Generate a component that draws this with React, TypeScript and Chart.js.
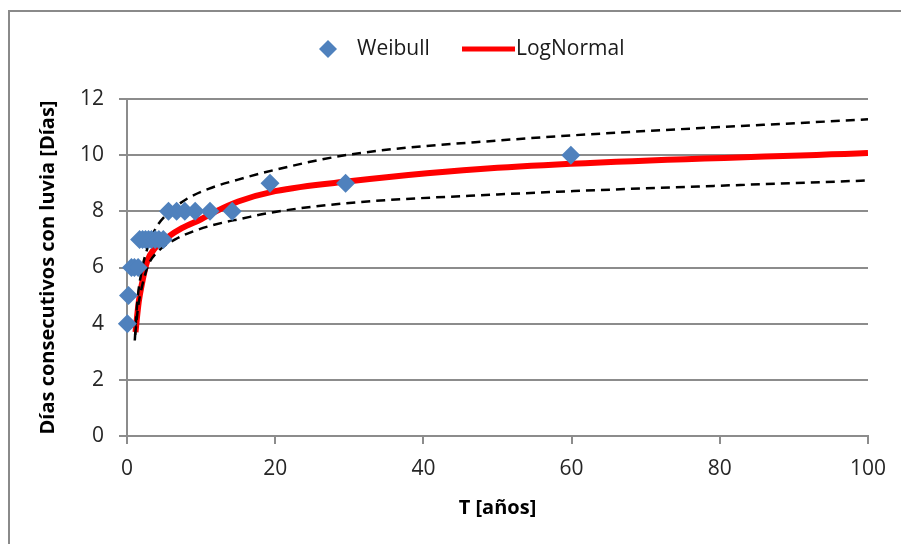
import React, { useEffect, useRef } from 'react';
import { Chart, registerables } from 'chart.js';

Chart.register(...registerables);

// Weibull plotting positions (return period T in years, days)
const weibullT = [0.05, 0.2, 0.6, 1.0, 1.5, 1.7, 2.1, 2.5, 2.9, 3.3, 3.8, 4.3, 4.9, 5.6, 6.7, 7.8, 9.2, 11.2, 14.2, 19.3, 29.5, 59.9];
const weibullDays = [4, 5, 6, 6, 6, 7, 7, 7, 7, 7, 7, 7, 7, 8, 8, 8, 8, 8, 8, 9, 9, 10];

// LogNormal fitted curve
const logNormalT = [1.15, 1.3, 1.6, 2.0, 2.7, 3.8, 5.6, 7.4, 10, 12, 15, 20, 30, 50, 100];
const logNormalDays = [3.7, 4.1, 4.8, 5.4, 6.2, 6.7, 7.1, 7.4, 7.72, 8.0, 8.35, 8.72, 9.07, 9.55, 10.08];

// Upper confidence band (dashed)
const upperT = [1.05, 1.4, 2.0, 2.9, 4.0, 5.6, 8, 11, 15, 20, 30, 50, 100];
const upperDays = [3.4, 4.8, 5.9, 6.8, 7.45, 7.95, 8.43, 8.8, 9.13, 9.48, 10.02, 10.52, 11.28];

// Lower confidence band (dashed)
const lowerT = [1.1, 1.5, 2.0, 2.9, 4.2, 6.5, 9.6, 12.8, 15.3, 19.3, 29.3, 50, 100];
const lowerDays = [3.6, 4.6, 5.3, 6.1, 6.58, 7.0, 7.35, 7.59, 7.73, 7.95, 8.28, 8.6, 9.1];

const xTicks = [0, 20, 40, 60, 80, 100];
const yTicks = [0, 2, 4, 6, 8, 10, 12];

const FONT = '"Open Sans", "DejaVu Sans", sans-serif';
const GRID = '#8c8c8c';
const BLUE = '#4F81BD';
const RED = '#FF0000';

const pts = (xs: number[], ys: number[]) => xs.map((x, i) => ({ x, y: ys[i] }));

const framePlugin = {
  id: 'frameAndLegend',
  beforeDraw(chart: any) {
    const ctx = chart.ctx;
    ctx.save();
    ctx.fillStyle = '#ffffff';
    ctx.fillRect(0, 0, chart.width, chart.height);
    ctx.strokeStyle = '#8a8a8a';
    ctx.lineWidth = 2;
    ctx.beginPath();
    ctx.moveTo(9, chart.height);
    ctx.lineTo(9, 11);
    ctx.lineTo(chart.width, 11);
    ctx.stroke();
    ctx.restore();
  },
  afterDraw(chart: any) {
    const ctx = chart.ctx;
    const ds = chart.data.datasets;
    const y = 49;
    ctx.save();
    // Weibull marker
    ctx.fillStyle = BLUE;
    ctx.beginPath();
    ctx.moveTo(328, y - 9);
    ctx.lineTo(337, y);
    ctx.lineTo(328, y + 9);
    ctx.lineTo(319, y);
    ctx.closePath();
    ctx.fill();
    ctx.font = `21px ${FONT}`;
    ctx.fillStyle = '#1a1a1a';
    ctx.textBaseline = 'middle';
    ctx.textAlign = 'left';
    ctx.fillText(ds[0].label, 357, y);
    // LogNormal line
    ctx.strokeStyle = RED;
    ctx.lineWidth = 5;
    ctx.beginPath();
    ctx.moveTo(462, y);
    ctx.lineTo(515, y);
    ctx.stroke();
    ctx.fillText(ds[3].label, 516, y);
    ctx.restore();
  },
};

export default function App() {
  const ref = useRef<HTMLCanvasElement>(null);

  useEffect(() => {
    const canvas = ref.current;
    if (!canvas) return;
    const chart = new Chart(canvas, {
      type: 'scatter',
      data: {
        datasets: [
          {
            label: 'Weibull',
            data: pts(weibullT, weibullDays),
            pointStyle: 'rectRot',
            pointRadius: 9.5,
            pointHoverRadius: 9.5,
            backgroundColor: BLUE,
            borderColor: BLUE,
            borderWidth: 0,
            showLine: false,
            clip: false,
          },
          {
            label: 'Superior',
            data: pts(upperT, upperDays),
            showLine: true,
            borderColor: '#000000',
            borderWidth: 2.5,
            borderDash: [9, 6],
            pointRadius: 0,
            cubicInterpolationMode: 'monotone',
          },
          {
            label: 'Inferior',
            data: pts(lowerT, lowerDays),
            showLine: true,
            borderColor: '#000000',
            borderWidth: 2.5,
            borderDash: [9, 6],
            pointRadius: 0,
            cubicInterpolationMode: 'monotone',
          },
          {
            label: 'LogNormal',
            data: pts(logNormalT, logNormalDays),
            showLine: true,
            borderColor: RED,
            backgroundColor: RED,
            borderWidth: 6,
            pointRadius: 0,
            cubicInterpolationMode: 'monotone',
          },
        ],
      },
      options: {
        responsive: false,
        animation: false,
        devicePixelRatio: 1,
        layout: { padding: { top: 99, right: 33, bottom: 0, left: 10 } },
        plugins: {
          legend: { display: false },
          tooltip: { enabled: false },
        },
        scales: {
          x: {
            type: 'linear',
            min: 0,
            max: 100,
            afterBuildTicks: (scale: any) => {
              scale.ticks = xTicks.map((v) => ({ value: v }));
            },
            afterFit: (scale: any) => {
              scale.height = 108;
            },
            ticks: {
              color: '#262626',
              font: { family: FONT, size: 21 },
              padding: 12,
              maxRotation: 0,
            },
            grid: {
              drawOnChartArea: false,
              drawTicks: true,
              tickLength: 8,
              color: GRID,
              lineWidth: 2,
            },
            border: { display: true, color: GRID, width: 2 },
            title: {
              display: true,
              text: 'T [años]',
              color: '#000000',
              font: { family: FONT, size: 20, weight: 'bold' },
              padding: { top: 0, bottom: 24 },
            },
          },
          y: {
            type: 'linear',
            min: 0,
            max: 12,
            afterBuildTicks: (scale: any) => {
              scale.ticks = yTicks.map((v) => ({ value: v }));
            },
            afterFit: (scale: any) => {
              scale.width = 117;
            },
            ticks: {
              color: '#262626',
              font: { family: FONT, size: 21 },
              padding: 15,
            },
            grid: {
              drawTicks: true,
              tickLength: 8,
              color: GRID,
              lineWidth: 2,
            },
            border: { display: true, color: GRID, width: 2 },
            title: {
              display: true,
              text: 'Días consecutivos con luvia [Días]',
              color: '#000000',
              font: { family: FONT, size: 20, weight: 'bold' },
              padding: { top: 26, bottom: 0 },
            },
          },
        },
      },
      plugins: [framePlugin],
    } as any);
    return () => chart.destroy();
  }, []);

  return (
    <div style={{ position: 'absolute', left: 0, top: 0, width: 901, height: 544, overflow: 'hidden', background: '#ffffff' }}>
      <canvas ref={ref} width={901} height={544} style={{ display: 'block', width: 901, height: 544 }} />
    </div>
  );
}
